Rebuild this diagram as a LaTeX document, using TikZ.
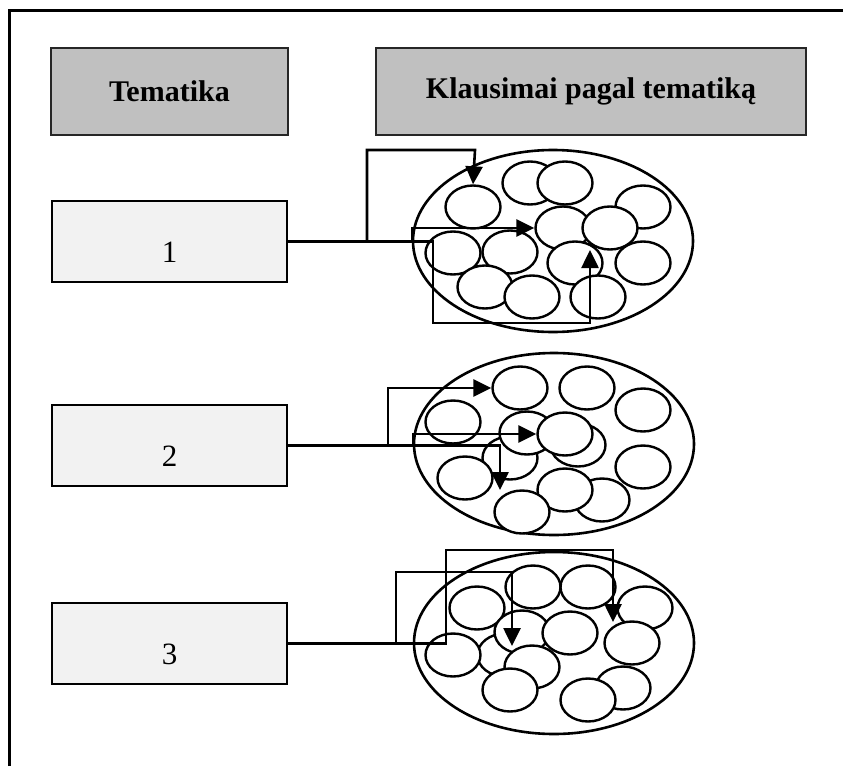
\documentclass[tikz,border=0pt]{standalone}
\usepackage{fontspec}
\setmainfont{Liberation Serif}
\usepackage{tikz}
\usetikzlibrary{
	shapes.geometric,
	arrows.meta,
	positioning
}
\definecolor{headgray}{HTML}{C0C0C0}

\begin{document}
\begin{tikzpicture}[
    x=1pt, y=-1pt,
    head/.style={rectangle, draw=black!85, line width=1.8pt, fill=headgray, minimum height=87pt, inner sep=0pt, font=\fontsize{30}{34}\selectfont\bfseries},
    topic/.style={rectangle, draw, line width=2.6pt, fill=black!5, minimum width=235pt, minimum height=81pt, inner sep=0pt, font=\fontsize{31}{34}\selectfont},
    pool/.style={ellipse, draw, line width=2.6pt, minimum width=280pt, minimum height=182pt, inner sep=0pt},
    qn/.style={ellipse, draw, fill=white, line width=2.4pt, minimum width=55pt, minimum height=43pt, inner sep=0pt},
    arrow/.style={line width=2.6pt, -{Triangle[length=18pt,width=17pt]}}
]
\useasboundingbox (0,0) rectangle (843,766);
\draw[line width=3pt] (9,766) -- (9,10) -- (843,10);

\node[head, minimum width=237pt] (hTema) at (169.5,91.5) {Tematika};
\node[head, minimum width=430pt] (hKlaus) at (591,91.5) {Klausimai pagal tematiką};

\node[topic] (t1) at (169.5,241.5) {\raisebox{-21pt}[0pt][0pt]{1}};
\node[topic] (t2) at (169.5,445.5) {\raisebox{-21pt}[0pt][0pt]{2}};
\node[topic] (t3) at (169.5,643.5) {\raisebox{-21pt}[0pt][0pt]{3}};

\node[pool] (p1) at (553,241) {};
\node[pool] (p2) at (554,444) {};
\node[pool] (p3) at (554,643) {};

% questions of each topic
\foreach \qx/\qy [count=\i] in {473/207, 530/183, 565/183, 643/207, 563/228, 610/228, 453/253, 510/252, 575/263, 643/263, 485/287, 532/297, 598/297}
    \node[qn] (q1-\i) at (\qx,\qy) {};
\foreach \qx/\qy [count=\i] in {520/388, 587/388, 643/410, 453/422, 510/458, 578/445, 527/433, 565/434, 643/467, 465/478, 602/500, 565/490, 522/512}
    \node[qn] (q2-\i) at (\qx,\qy) {};
\foreach \qx/\qy [count=\i] in {533/587, 588/587, 645/608, 477/608, 505/655, 522/632, 570/633, 632/643, 453/655, 532/667, 510/690, 623/688, 588/700}
    \node[qn] (q3-\i) at (\qx,\qy) {};

\coordinate (b1a) at (367,241);
\coordinate (b1b) at (412,241);
\coordinate (e1a) at (590,250);
\coordinate (b2a) at (388,446);
\coordinate (b2b) at (413,446);
\coordinate (e2a) at (500,490);
\coordinate (b3a) at (396,644);
\coordinate (e3a) at (613,622);
\coordinate (e3b) at (512,646);

\draw[arrow] (t1.east) -| (433,323) -| (e1a);
\draw[arrow] (b1a) |- (475,150) -- (q1-1.north);
\draw[arrow] (b1b) |- (q1-5.west);

\draw[arrow] (t2.east) -| (e2a);
\draw[arrow] (b2a) |- (q2-1.west);
\draw[arrow] (b2b) |- (q2-8.west);

\draw[arrow] (t3.east) -| (446,550) -| (e3a);
\draw[arrow] (b3a) |- (512,572) -- (e3b);
\end{tikzpicture}
\end{document}
